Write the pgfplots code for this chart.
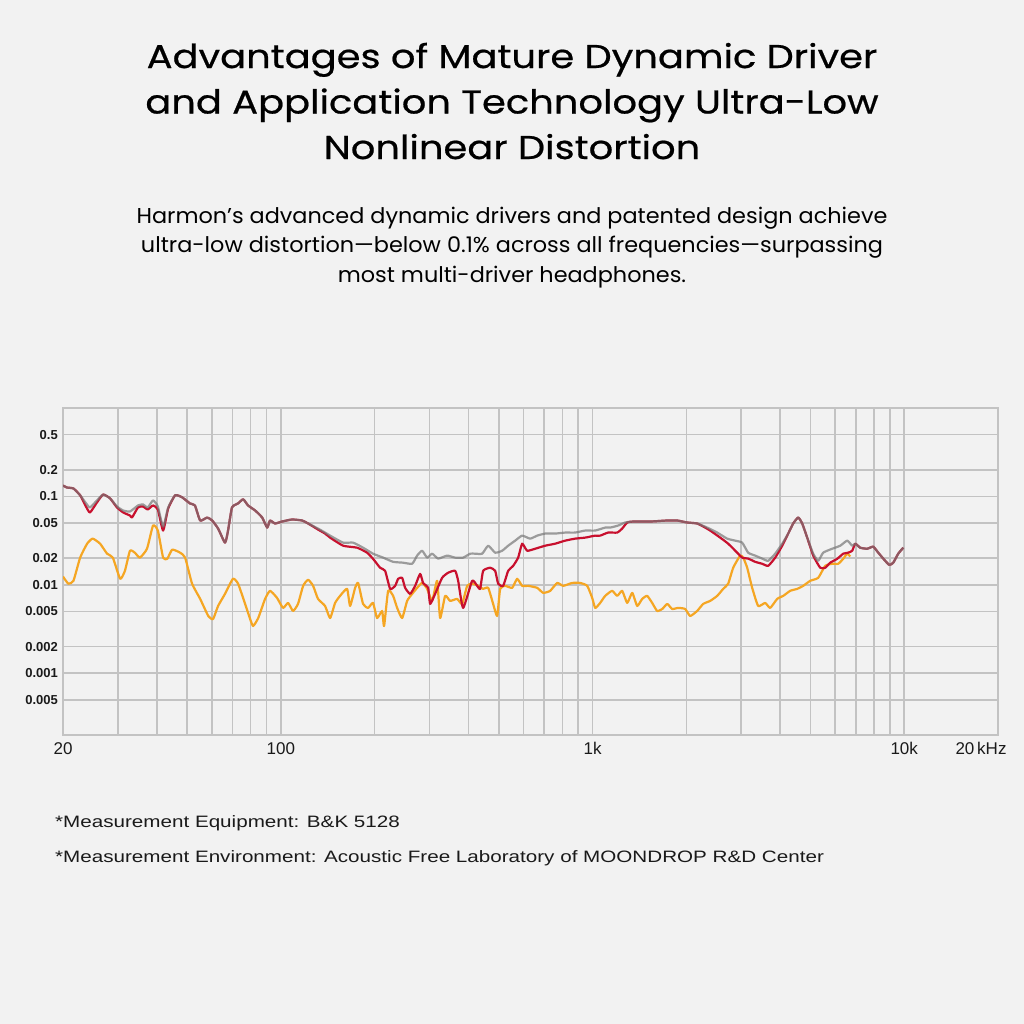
\documentclass[border=0pt]{standalone}
\usepackage{fontspec}
\setmainfont{Poppins}
\newfontfamily\arial{Liberation Sans}
\newfontfamily\footfont[FakeStretch=1.25]{Liberation Sans}
\newfontfamily\subfont[FakeStretch=1.04]{Poppins}
\newfontfamily\titlefont[FakeBold=0.6, FakeStretch=1.165]{Poppins}
\usepackage{pgfplots}
\pgfplotsset{compat=1.18}
\definecolor{bg}{HTML}{F2F2F2}
\definecolor{gridc}{HTML}{C3C3C3}
\definecolor{redc}{HTML}{C8102E}
\definecolor{grayc}{HTML}{777777}
\definecolor{orc}{HTML}{F5A623}
\definecolor{lab}{HTML}{1A1A1A}
\begin{document}
\begin{tikzpicture}
\fill[bg] (0,0) rectangle (1024bp,-1024bp);
\path[use as bounding box] (0,0) rectangle (1024bp,-1024bp);
\begin{scope}[every node/.style={anchor=base, inner sep=0pt, font=\titlefont\fontsize{33bp}{40bp}\selectfont}]
\node at (512bp,-68bp) {Advantages of Mature Dynamic Driver};
\node at (512bp,-113.5bp) {and Application Technology Ultra-Low};
\node at (512bp,-159bp) {Nonlinear Distortion};
\end{scope}
\begin{scope}[every node/.style={anchor=base, inner sep=0pt, font=\subfont\fontsize{21.5bp}{26bp}\selectfont}]
\node at (512bp,-223bp) {Harmon’s advanced dynamic drivers and patented design achieve};
\node at (512bp,-252.5bp) {ultra-low distortion—below 0.1\% across all frequencies—surpassing};
\node at (512bp,-282bp) {most multi-driver headphones.};
\end{scope}
\begin{scope}[every node/.style={anchor=base west, inner sep=0pt, font=\footfont\fontsize{16.5bp}{20bp}\selectfont, text=lab}]
\node at (55bp,-827bp) {*Measurement Equipment: B\&K 5128};
\node at (55bp,-862bp) {*Measurement Environment: Acoustic Free Laboratory of MOONDROP R\&D Center};
\end{scope}
\begin{axis}[
  at={(63bp,-735bp)}, anchor=south west,
  scale only axis, width=935bp, height=327bp,
  xmode=log, ymode=log,
  xmin=20, xmax=20000, ymin=0.0002, ymax=1,
  axis background/.style={fill=bg},
  xtick={20,100,1000,10000},
  xticklabels={20,100,1k,10k},
  extra x ticks={20000},
  extra x tick labels={20\,kHz},
  extra x tick style={xticklabel style={xshift=-17bp}},
  minor xtick={30,40,50,60,70,80,90,200,300,400,500,600,700,800,900,2000,3000,4000,5000,6000,7000,8000,9000},
  ytick={0.0005,0.001,0.002,0.005,0.01,0.02,0.05,0.1,0.2,0.5},
  yticklabels={0.005,0.001,0.002,0.005,0.01,0.02,0.05,0.1,0.2,0.5},
  grid=both,
  major grid style={gridc, line width=1.6bp},
  minor grid style={gridc, line width=1.6bp},
  axis line style={gridc, line width=1.6bp},
  major tick length=0pt, minor tick length=0pt,
  xticklabel style={font=\arial\fontsize{17bp}{17bp}\selectfont, text=lab, inner sep=0pt, yshift=-7bp},
  yticklabel style={font=\arial\bfseries\fontsize{13bp}{13bp}\selectfont, text=lab, inner sep=0pt, xshift=-5bp},
  every axis plot/.append style={line width=2.2bp, line join=round, mark=none, smooth, tension=0.3},
]
\addplot[orc] coordinates {
(20,0.0124)(20.8,0.0103)(21.6,0.0111)(22.7,0.0203)(23.9,0.0292)(24.9,0.0333)(26.3,0.0292)(27.7,0.0225)(28.9,0.0203)(30.5,0.0117)(31.6,0.0144)(32.8,0.0243)(34.0,0.0231)(35.3,0.0203)(37.2,0.0256)(38.9,0.0468)(40.3,0.0411)(41.9,0.0203)(43.2,0.0197)(44.8,0.0250)(47.5,0.0231)(49.3,0.0203)(51.9,0.0103)(55.1,0.00693)(58.5,0.00444)(60.6,0.00410)(62.9,0.00577)(66.2,0.00790)(70.2,0.0117)(72.9,0.0103)(76.8,0.00608)(79.7,0.00410)(81.5,0.00342)(84.6,0.00421)(89.0,0.00693)(92.3,0.00855)(97.2,0.00712)(101.6,0.00548)(105.5,0.00624)(109.4,0.00506)(113.5,0.00608)(117.9,0.00974)(122.3,0.0114)(126.9,0.00974)(131.6,0.00693)(138.6,0.00577)(143.9,0.00421)(149.3,0.00624)(154.9,0.00750)(163.1,0.00900)(166.8,0.00577)(173.1,0.00924)(177,0.0105)(183.6,0.00608)(190.5,0.00548)(197.6,0.00624)(203.6,0.00421)(211.3,0.00506)(214.4,0.00342)(220.9,0.00855)(229.2,0.00750)(236.1,0.00548)(245,0.00421)(254.2,0.00658)(263.8,0.00790)(273.7,0.00924)(284,0.0105)(294.7,0.00900)(305.8,0.00658)(317.3,0.0111)(324.4,0.00421)(336.6,0.00750)(349.3,0.00658)(367.8,0.00693)(381.7,0.00608)(396.1,0.00974)(410.9,0.0103)(429.6,0.00974)(445.8,0.00900)(462.6,0.00924)(479.9,0.00608)(494.3,0.00444)(505.4,0.00900)(524.4,0.00974)(552.3,0.00924)(573.1,0.0117)(594.6,0.00974)(621.6,0.00974)(664.4,0.00924)(694.5,0.00811)(731.4,0.00855)(770.2,0.0105)(805.1,0.00974)(860.5,0.0105)(912.9,0.0105)(961.4,0.00974)(997.5,0.00712)(1020,0.00548)(1058,0.00624)(1098,0.00750)(1156,0.00855)(1200,0.00750)(1245,0.00855)(1292,0.00624)(1341,0.00811)(1391,0.00577)(1443,0.00693)(1497,0.00750)(1554,0.00624)(1612,0.00506)(1674,0.00533)(1737,0.00608)(1801,0.00533)(1883,0.00548)(1983,0.00533)(2057,0.00444)(2166,0.00506)(2265,0.00608)(2385,0.00658)(2512,0.00750)(2626,0.00900)(2724,0.0103)(2827,0.0156)(2977,0.0214)(3044,0.0203)(3135,0.0156)(3253,0.00924)(3400,0.00577)(3581,0.00624)(3716,0.00548)(3913,0.00693)(4091,0.00750)(4308,0.00855)(4537,0.00900)(4742,0.00974)(4994,0.0111)(5298,0.0120)(5579,0.0164)(5876,0.0173)(6143,0.0173)(6374,0.0197)(6565,0.0225)(6712,0.0209)
};
\addplot[redc] coordinates {
(20,0.133)(20.6,0.126)(21.6,0.123)(22.7,0.103)(23.6,0.0790)(24.4,0.0658)(25.7,0.0855)(26.9,0.105)(28.3,0.0952)(29.8,0.0750)(31.2,0.0658)(32.8,0.0608)(33.3,0.0577)(34.8,0.0750)(36.1,0.0770)(37.4,0.0712)(38.9,0.0790)(40.3,0.0712)(41.9,0.0411)(43.5,0.0730)(45.8,0.103)(48.2,0.0977)(51.1,0.0833)(53.0,0.0790)(55.1,0.0534)(58.0,0.0577)(60.2,0.0534)(62.9,0.0433)(66.2,0.0300)(67.7,0.0411)(69.7,0.0750)(72.9,0.0833)(75.7,0.0928)(78.5,0.0790)(82.7,0.0693)(87.1,0.0577)(90.4,0.0444)(92.3,0.0534)(95.8,0.0494)(100.9,0.0520)(108.6,0.0548)(117,0.0534)(122.3,0.0494)(131.6,0.0422)(138.6,0.0380)(143.9,0.0342)(158.4,0.0277)(175.7,0.0263)(189.1,0.0231)(197.6,0.0197)(208.2,0.0156)(216,0.0144)(224.2,0.00900)(232.6,0.00974)(237.9,0.0117)(245,0.0120)(250.5,0.00924)(259.9,0.00790)(269.7,0.00974)(279.8,0.0133)(286.1,0.0105)(296.8,0.00924)(301.3,0.00608)(312.6,0.00790)(329.2,0.0120)(344.2,0.0137)(362.4,0.0144)(370.6,0.0111)(384.5,0.00548)(410.9,0.0111)(426.4,0.00974)(436,0.00900)(445.8,0.0144)(469.4,0.0156)(487.1,0.0144)(498,0.0103)(516.7,0.00974)(536.2,0.0144)(556.4,0.0164)(577.3,0.0203)(594.6,0.0292)(617,0.0243)(654.6,0.0256)(704.8,0.0277)(758.9,0.0292)(817.1,0.0316)(879.8,0.0333)(947.2,0.0342)(1020,0.0360)(1058,0.0360)(1122,0.0390)(1200,0.0390)(1245,0.0433)(1292,0.0507)(1351,0.0520)(1531,0.0520)(1737,0.0534)(1869,0.0534)(2012,0.0507)(2166,0.0494)(2298,0.0444)(2385,0.0411)(2568,0.0342)(2724,0.0292)(2912,0.0231)(3021,0.0203)(3158,0.0198)(3326,0.0182)(3502,0.0173)(3661,0.0164)(3856,0.0203)(4061,0.0277)(4245,0.0380)(4404,0.0494)(4570,0.0577)(4707,0.0494)(4884,0.0342)(5106,0.0214)(5377,0.0156)(5579,0.0156)(5790,0.0178)(6097,0.0197)(6374,0.0225)(6614,0.0231)(6812,0.0243)(6964,0.0292)(7227,0.0263)(7611,0.0256)(7955,0.0270)(8255,0.0231)(8566,0.0198)(8954,0.0168)(9223,0.0178)(9570,0.0225)(9931,0.0263)
};
\addplot[grayc, opacity=0.7] coordinates {
(20,0.133)(20.6,0.126)(21.6,0.123)(22.7,0.103)(23.6,0.0855)(24.4,0.0750)(25.7,0.0901)(26.9,0.105)(28.3,0.0952)(29.8,0.0770)(31.2,0.0693)(32.8,0.0675)(34.8,0.0790)(36.1,0.0812)(37.4,0.0750)(38.9,0.0901)(40.3,0.0770)(41.9,0.0456)(43.5,0.0750)(45.8,0.103)(48.2,0.0977)(51.1,0.0833)(53.0,0.0790)(55.1,0.0534)(58.0,0.0577)(60.2,0.0534)(62.9,0.0433)(66.2,0.0300)(67.7,0.0411)(69.7,0.0750)(72.9,0.0833)(75.7,0.0928)(78.5,0.0790)(82.7,0.0693)(87.1,0.0577)(90.4,0.0444)(92.3,0.0534)(95.8,0.0494)(100.9,0.0520)(108.6,0.0548)(117,0.0534)(122.3,0.0494)(131.6,0.0433)(138.6,0.0390)(143.9,0.0360)(158.4,0.0300)(170.5,0.0300)(183.6,0.0263)(197.6,0.0225)(212.9,0.0203)(229.2,0.0182)(246.8,0.0178)(263.8,0.0173)(273.7,0.0214)(284,0.0243)(294.7,0.0203)(305.8,0.0225)(319.7,0.0198)(341.6,0.0214)(362.4,0.0203)(384.5,0.0203)(404.9,0.0225)(420.1,0.0225)(442.5,0.0225)(462.6,0.0277)(487.1,0.0231)(512.9,0.0243)(536.2,0.0277)(564.7,0.0316)(594.6,0.0360)(630.9,0.0333)(664.4,0.0360)(704.8,0.0380)(758.9,0.0380)(817.1,0.0390)(879.8,0.0390)(947.2,0.0411)(1020,0.0411)(1098,0.0444)(1139,0.0444)(1208,0.0468)(1273,0.0507)(1351,0.0520)(1531,0.0520)(1737,0.0534)(1869,0.0534)(2012,0.0507)(2166,0.0494)(2333,0.0444)(2512,0.0390)(2704,0.0333)(2869,0.0316)(3021,0.0300)(3158,0.0231)(3326,0.0214)(3502,0.0198)(3661,0.0187)(3856,0.0225)(4061,0.0292)(4245,0.0380)(4404,0.0494)(4570,0.0577)(4707,0.0494)(4884,0.0342)(5106,0.0225)(5298,0.0187)(5497,0.0231)(5876,0.0256)(6234,0.0277)(6565,0.0316)(6812,0.0277)(6964,0.0292)(7227,0.0263)(7611,0.0256)(7955,0.0270)(8255,0.0231)(8566,0.0198)(8954,0.0168)(9223,0.0178)(9570,0.0225)(9931,0.0263)
};
\end{axis}
\end{tikzpicture}
\end{document}
